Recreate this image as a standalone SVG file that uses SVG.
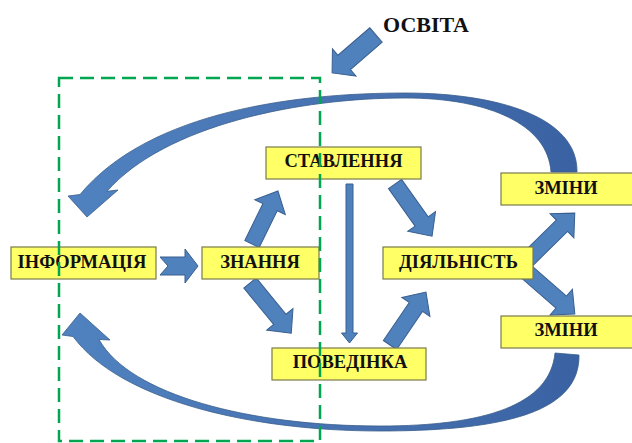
<svg xmlns="http://www.w3.org/2000/svg" width="632" height="443" viewBox="0 0 632 443">
<defs>
<linearGradient id="arc" x1="0" y1="0" x2="1" y2="0">
<stop offset="0" stop-color="#5082C0"/>
<stop offset="0.6" stop-color="#4670B0"/>
<stop offset="1" stop-color="#3A62A2"/>
</linearGradient>
</defs>
<style>
.box{fill:#FFFF66;stroke:#7A7A4A;stroke-width:1.2}
.lbl{font-family:'Liberation Serif','Times New Roman',serif;font-weight:700;font-size:18.5px;fill:#111;text-anchor:middle}
.arr{fill:#4F81BD;stroke:#3A5F8F;stroke-width:1}
.arc{fill:url(#arc);stroke:#385D8A;stroke-width:0.8}
.frame{fill:none;stroke:#00A650;stroke-width:2.5;stroke-dasharray:14 7}
</style>
<rect width="632" height="443" fill="#fff"/>
<g id="connectors">
<path class="arc" d="M577,172 C578,118 500,93 405,93 C300,93 150,110 80,194.5 L68,196 L87,217 L118,190 L107,191.3 C165,125 300,98 405,98 C490,98 548,125 551,172 Z"/>
<path class="arc" d="M579,355 C580,410 510,431 380,431 C250,431 120,400 73,336.5 L62,335 L80,313 L110,340 L99,339.5 C130,395 250,426 380,426 C485,426 550,405 555,353 Z"/>
<polygon class="arr" points="160,257 185,257 185,249 198,266 185,283 185,275 160,275 168,266"/>
<polygon class="arr" transform="translate(252,244) rotate(-63.9)" points="0,-8 41,-8 41,-17 59,0 41,17 41,8 0,8"/>
<polygon class="arr" transform="translate(250,283) rotate(50.6)" points="0,-8 47,-8 47,-17 65,0 47,17 47,8 0,8"/>
<polygon class="arr" transform="translate(395,184) rotate(54.6)" points="0,-8 46,-8 46,-17 64,0 46,17 46,8 0,8"/>
<polygon class="arr" transform="translate(390,345) rotate(-55.8)" points="0,-8 46,-8 46,-17 64,0 46,17 46,8 0,8"/>
<polygon class="arr" transform="translate(522,265) rotate(-44.5)" points="0,-8 56,-8 56,-17 74,0 56,17 56,8 0,8"/>
<polygon class="arr" transform="translate(522,268) rotate(41)" points="0,-8 52,-8 52,-17 70,0 52,17 52,8 0,8"/>
<polygon class="arr" points="346,184 353,184 353,333 357.5,333 349.5,343 341.5,333 346,333"/>
<polygon class="arr" transform="translate(376,35) rotate(139.2)" points="0,-9.5 42,-9.5 42,-18 58,0 42,18 42,9.5 0,9.5"/>
</g>
<g id="n-osvita"><text x="383" y="32" font-family="Liberation Serif, Times New Roman, serif" font-weight="bold" font-size="22" fill="#111">ОСВІТА</text></g>
<g id="n-informatsiia"><rect class="box" x="11" y="247" width="145" height="32"/><text class="lbl" x="82" y="267.5">ІНФОРМАЦІЯ</text></g>
<g id="n-znannia"><rect class="box" x="202" y="247" width="117" height="32"/><text class="lbl" x="260" y="267.5">ЗНАННЯ</text></g>
<g id="n-stavlennia"><rect class="box" x="266" y="147" width="155" height="32"/><text class="lbl" x="343.5" y="166.5">СТАВЛЕННЯ</text></g>
<g id="n-povedinka"><rect class="box" x="272" y="348" width="154" height="32"/><text class="lbl" x="350" y="367.5">ПОВЕДІНКА</text></g>
<g id="n-diialnist"><rect class="box" x="383" y="247" width="150" height="32"/><text class="lbl" x="458.5" y="267.5">ДІЯЛЬНІСТЬ</text></g>
<g id="n-zminy1"><rect class="box" x="501" y="173" width="135" height="32"/><text class="lbl" x="566" y="193.5">ЗМІНИ</text></g>
<g id="n-zminy2"><rect class="box" x="501" y="316" width="135" height="32"/><text class="lbl" x="566" y="336">ЗМІНИ</text></g>
<g id="frame"><rect class="frame" x="59" y="78" width="261" height="363"/></g>
</svg>
